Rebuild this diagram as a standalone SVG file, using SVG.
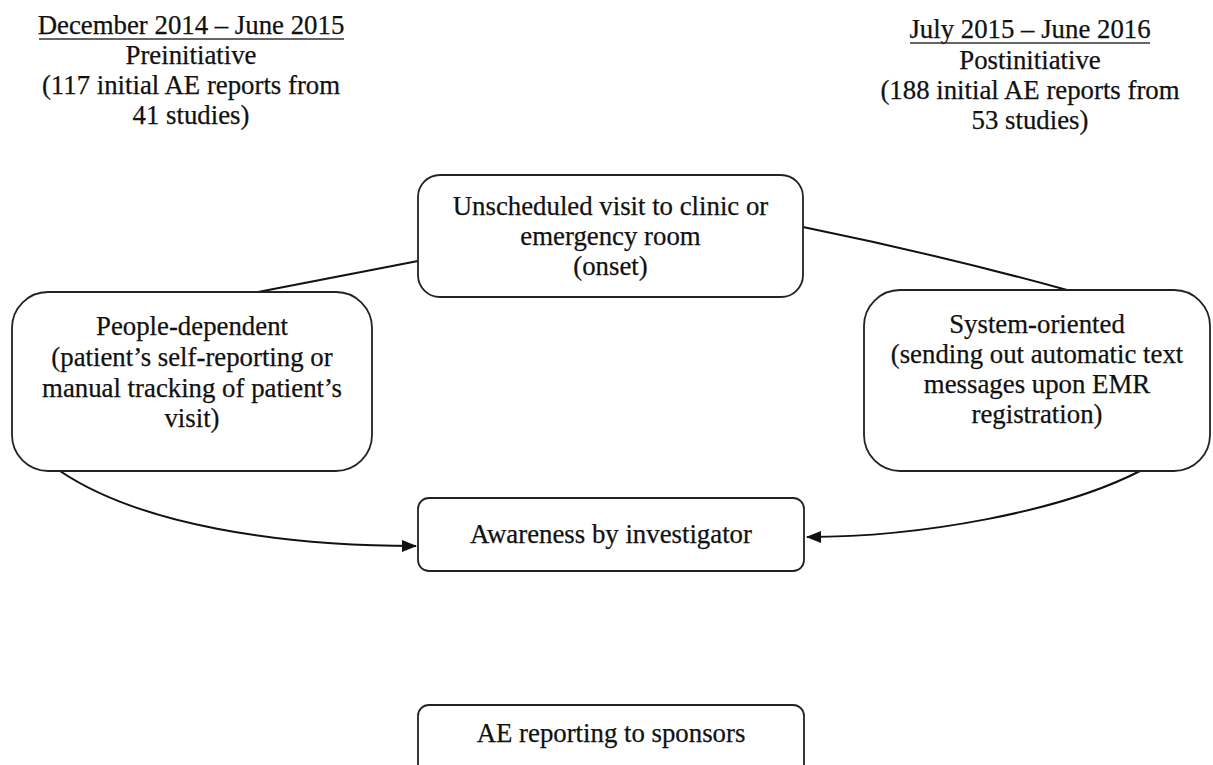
<svg xmlns="http://www.w3.org/2000/svg" width="1213" height="765" viewBox="0 0 1213 765">
<defs>
<marker id="arr" viewBox="0 0 15 12" refX="14" refY="6" markerWidth="15" markerHeight="12" markerUnits="userSpaceOnUse" orient="auto">
<path d="M0,0 L15,6 L0,12 Z" fill="#111"/>
</marker>
<style>
text{font-family:"Liberation Serif","Times New Roman",serif;font-size:26.8px;fill:#111;stroke:#111;stroke-width:0.25;text-anchor:middle}
.box{fill:#fff;stroke:#222;stroke-width:1.8}
.con{fill:none;stroke:#111;stroke-width:2}
.ul{stroke:#333;stroke-width:1.5}
</style>
</defs>
<rect width="1213" height="765" fill="#fff"/>
<g id="header-left">
<text x="191" y="34">December 2014 – June 2015</text>
<line class="ul" x1="39" y1="39" x2="344" y2="39"/>
<text x="191" y="64">Preinitiative</text>
<text x="191" y="94">(117 initial AE reports from</text>
<text x="191" y="124">41 studies)</text>
</g>
<g id="header-right">
<text x="1030" y="38">July 2015 – June 2016</text>
<line class="ul" x1="910" y1="43" x2="1150" y2="43"/>
<text x="1030" y="69">Postinitiative</text>
<text x="1030" y="99">(188 initial AE reports from</text>
<text x="1030" y="129">53 studies)</text>
</g>
<g id="connectors">
<path class="con" d="M418,261 L258,292"/>
<path class="con" d="M803,227 Q940,255 1067,290"/>
<path class="con" d="M60,471 C140,525 280,546 416,546" marker-end="url(#arr)"/>
<path class="con" d="M1140,471 C1060,512 920,537 807,537" marker-end="url(#arr)"/>
</g>
<g id="node-onset">
<rect class="box" x="418" y="175" width="385" height="122" rx="22"/>
<text x="610.5" y="215">Unscheduled visit to clinic or</text>
<text x="610.5" y="245">emergency room</text>
<text x="610.5" y="275">(onset)</text>
</g>
<g id="node-people">
<rect class="box" x="12" y="292" width="360" height="179" rx="36"/>
<text x="192" y="335">People-dependent</text>
<text x="192" y="366">(patient’s self-reporting or</text>
<text x="192" y="397">manual tracking of patient’s</text>
<text x="192" y="427">visit)</text>
</g>
<g id="node-system">
<rect class="box" x="864" y="290" width="346" height="181" rx="36"/>
<text x="1037" y="333">System-oriented</text>
<text x="1037" y="363">(sending out automatic text</text>
<text x="1037" y="393">messages upon EMR</text>
<text x="1037" y="423">registration)</text>
</g>
<g id="node-awareness">
<rect class="box" x="418" y="498" width="386" height="73" rx="11"/>
<text x="611" y="543">Awareness by investigator</text>
</g>
<g id="node-reporting">
<rect class="box" x="418" y="705" width="386" height="80" rx="11"/>
<text x="611" y="742">AE reporting to sponsors</text>
</g>
</svg>
